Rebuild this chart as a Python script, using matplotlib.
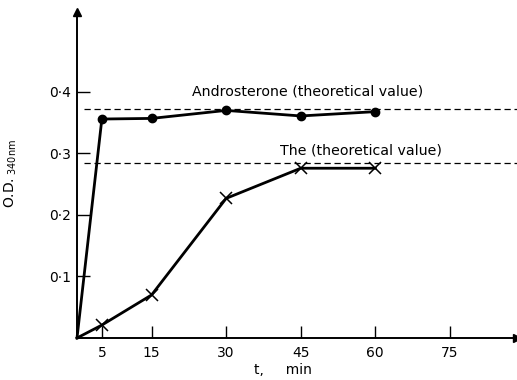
#!/usr/bin/env python3
"""Androsterone / The absorbance time course at 340 nm."""

import matplotlib

matplotlib.use("Agg")

import matplotlib.pyplot as plt

# data
andro_t = [0, 5, 15, 30, 45, 60]
andro_od = [0.0, 0.356, 0.357, 0.370, 0.361, 0.368]
the_t = [0, 5, 15, 30, 45, 60]
the_od = [0.0, 0.021, 0.070, 0.227, 0.276, 0.276]
andro_theory = 0.373
the_theory = 0.285

x_ticks = [5, 15, 30, 45, 60, 75]
y_ticks = [0.1, 0.2, 0.3, 0.4]
y_labels = ["0·1", "0·2", "0·3", "0·4"]


def main() -> None:
    plt.rcParams.update({"font.family": "DejaVu Sans", "font.size": 10})

    fig = plt.figure(figsize=(5.17, 3.8), dpi=100)
    ax = fig.add_axes([77 / 517, 42 / 380, 440 / 517, 326 / 380])
    ax.set_xlim(0, 88.5)
    ax.set_ylim(0, 0.53)

    for side in ("top", "right"):
        ax.spines[side].set_visible(False)
    for side in ("left", "bottom"):
        ax.spines[side].set_linewidth(1.4)

    # arrow heads on the axes
    ax.plot(1, 0, ">k", transform=ax.transAxes, clip_on=False, markersize=6)
    ax.plot(0, 1, "^k", transform=ax.transAxes, clip_on=False, markersize=6)

    ax.axhline(andro_theory, xmin=1.5 / 88.5, color="black", lw=0.9, ls=(0, (5, 3)))
    ax.axhline(the_theory, xmin=1.5 / 88.5, color="black", lw=0.9, ls=(0, (5, 3)))

    ax.plot(andro_t, andro_od, color="black", lw=2, marker="o", markersize=6,
            markevery=list(range(1, len(andro_t))), clip_on=False)
    ax.plot(the_t, the_od, color="black", lw=2, marker="x", markersize=8,
            markeredgewidth=1.1, markevery=list(range(1, len(the_t))), clip_on=False)

    ax.text(46.3, 0.401, "Androsterone (theoretical value)", ha="center", va="center",
            fontsize=10.2)
    ax.text(57.1, 0.305, "The (theoretical value)", ha="center", va="center",
            fontsize=10.2)

    ax.set_xticks(x_ticks)
    ax.set_xticklabels([str(v) for v in x_ticks])
    ax.set_yticks(y_ticks)
    ax.set_yticklabels(y_labels)
    ax.tick_params(axis="x", direction="in", length=9, width=1, pad=6, labelsize=10)
    ax.tick_params(axis="y", direction="in", length=9, width=1, pad=4, labelsize=10)

    ax.set_xlabel("t,     min", fontsize=10)
    ax.xaxis.set_label_coords((283 - 77) / 440, -25 / 326)
    ax.set_ylabel(r"O.D.$_{\mathregular{\ 340 nm}}$", fontsize=10)
    ax.yaxis.set_label_coords(-58 / 440, (338 - 174) / 326)

    fig.savefig("out.png", dpi=100)
    plt.close(fig)


if __name__ == "__main__":
    main()
